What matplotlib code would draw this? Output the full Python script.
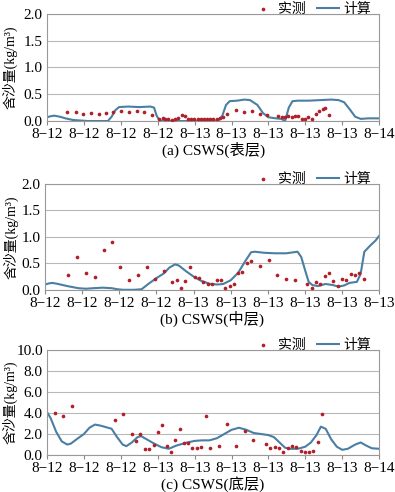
import matplotlib.pyplot as plt

plt.rcParams['font.family'] = ['Liberation Serif', 'Noto Sans CJK SC', 'DejaVu Sans']
plt.rcParams['axes.unicode_minus'] = True

# nhan truc x cua tung hinh
labels_a = ['8−12'] * 4 + ['8−13'] * 5 + ['8−14']
labels_b = ['8−12'] * 4 + ['8−13'] * 6
labels_c = ['8−12'] * 3 + ['8−13'] * 6 + ['8−14']

# (a) tang mat - so lieu thuc do
obs_a_x = [0.54, 0.78, 0.97, 1.19, 1.40, 1.61, 1.80, 2.01, 2.23, 2.44, 2.64, 2.84,
           3.04, 3.13, 3.20, 3.29, 3.38, 3.47, 3.56, 3.65, 3.75, 3.82, 3.90, 3.99,
           4.08, 4.17, 4.26, 4.33, 4.42, 4.51, 4.60, 4.69, 4.76, 4.87, 5.13, 5.35,
           5.55, 5.76, 5.96, 6.27, 6.36, 6.45, 6.54, 6.63, 6.72, 6.80, 6.90, 6.99,
           7.08, 7.19, 7.29, 7.38, 7.47, 7.54, 7.64]
obs_a_y = [0.17, 0.17, 0.14, 0.15, 0.14, 0.15, 0.16, 0.19, 0.17, 0.18, 0.17, 0.12,
           0.03, 0.06, 0.04, 0.03, 0.01, 0.03, 0.06, 0.11, 0.09, 0.04, 0.03, 0.03,
           0.03, 0.03, 0.04, 0.04, 0.03, 0.03, 0.03, 0.05, 0.08, 0.14, 0.20, 0.17,
           0.18, 0.13, 0.12, 0.10, 0.08, 0.08, 0.10, 0.08, 0.10, 0.09, 0.04, 0.03,
           0.08, 0.04, 0.14, 0.18, 0.22, 0.25, 0.12]
# (a) ket qua tinh
cal_a_x = [0, 0.1, 0.2, 0.35, 0.5, 0.7, 0.9, 1.1, 1.3, 1.5, 1.65, 1.75, 1.85, 1.95,
           2.2, 2.5, 2.8, 2.9, 2.97, 3.05, 3.3, 3.6, 4.0, 4.4, 4.65, 4.75, 4.85,
           4.95, 5.15, 5.35, 5.5, 5.7, 5.85, 6.0, 6.2, 6.35, 6.45, 6.55, 6.65, 6.8,
           7.1, 7.4, 7.7, 7.9, 8.05, 8.2, 8.35, 8.5, 8.7, 9.0]
cal_a_y = [0.07, 0.09, 0.10, 0.08, 0.05, 0.02, 0.01, 0.0, 0.0, 0.0, 0.0, 0.08, 0.20, 0.26,
           0.27, 0.26, 0.27, 0.25, 0.10, 0.01, 0.0, 0.0, 0.0, 0.0, 0.01, 0.10, 0.30,
           0.37, 0.38, 0.40, 0.39, 0.30, 0.15, 0.07, 0.05, 0.04, 0.0, 0.25, 0.37, 0.38,
           0.38, 0.39, 0.40, 0.39, 0.35, 0.22, 0.08, 0.04, 0.05, 0.05]

# (b) tang giua
obs_b_x = [0.63, 0.87, 1.10, 1.35, 1.58, 1.81, 2.03, 2.27, 2.51, 2.74, 2.97, 3.21,
           3.43, 3.55, 3.66, 3.78, 3.91, 4.03, 4.14, 4.26, 4.38, 4.49, 4.63, 4.74,
           4.85, 4.97, 5.08, 5.19, 5.31, 5.44, 5.55, 5.79, 6.02, 6.25, 6.49, 6.72,
           7.06, 7.18, 7.30, 7.41, 7.53, 7.65, 7.76, 7.88, 7.99, 8.11, 8.23, 8.35,
           8.46, 8.58]
obs_b_y = [0.28, 0.62, 0.31, 0.24, 0.75, 0.90, 0.44, 0.19, 0.28, 0.44, 0.21, 0.35,
           0.15, 0.19, 0.04, 0.17, 0.43, 0.24, 0.23, 0.15, 0.10, 0.10, 0.18, 0.18,
           0.03, 0.07, 0.11, 0.32, 0.33, 0.51, 0.55, 0.45, 0.57, 0.28, 0.21, 0.18,
           0.10, 0.03, 0.14, 0.10, 0.26, 0.32, 0.17, 0.07, 0.20, 0.18, 0.29, 0.28,
           0.32, 0.20]
cal_b_x = [0, 0.1, 0.2, 0.35, 0.6, 0.9, 1.1, 1.3, 1.55, 1.8, 1.95, 2.1, 2.4, 2.6,
           2.8, 3.0, 3.2, 3.35, 3.5, 3.6, 3.8, 4.0, 4.2, 4.45, 4.65, 4.8, 5.0, 5.2,
           5.4, 5.55, 5.65, 5.9, 6.2, 6.5, 6.7, 6.8, 6.9, 7.0, 7.1, 7.2, 7.35, 7.55,
           7.75, 7.9, 8.05, 8.2, 8.4, 8.5, 8.6, 8.75, 8.9, 9.0]
cal_b_y = [0.10, 0.12, 0.13, 0.11, 0.07, 0.03, 0.02, 0.03, 0.04, 0.03, 0.01, 0.0, 0.0,
           0.01, 0.12, 0.22, 0.31, 0.42, 0.48, 0.46, 0.35, 0.25, 0.17, 0.11, 0.10, 0.11,
           0.18, 0.32, 0.55, 0.71, 0.72, 0.70, 0.69, 0.69, 0.71, 0.72, 0.62, 0.38,
           0.15, 0.09, 0.07, 0.11, 0.09, 0.06, 0.08, 0.13, 0.15, 0.30, 0.72, 0.83,
           0.93, 1.02]

# (c) tang day
obs_c_x = [0.21, 0.43, 0.67, 1.83, 2.07, 2.30, 2.42, 2.53, 2.66, 2.77, 2.89, 3.01,
           3.12, 3.24, 3.36, 3.47, 3.59, 3.71, 3.83, 3.94, 4.06, 4.18, 4.31, 4.42,
           4.65, 4.89, 5.12, 5.36, 5.59, 5.93, 6.05, 6.17, 6.28, 6.40, 6.52, 6.63,
           6.75, 6.87, 6.98, 7.10, 7.22, 7.34, 7.45]
obs_c_y = [3.96, 3.74, 4.65, 3.36, 3.93, 1.98, 1.32, 2.04, 0.57, 0.57, 0.97, 2.17,
           2.86, 0.85, 0.31, 1.45, 2.52, 1.16, 1.16, 0.63, 0.63, 0.75, 3.74, 0.63,
           0.85, 2.92, 0.85, 2.26, 1.42, 1.07, 0.66, 0.79, 0.66, 0.25, 0.66, 0.85,
           0.79, 0.41, 0.25, 0.31, 0.41, 1.23, 3.93]
cal_c_x = [0, 0.1, 0.25, 0.4, 0.55, 0.65, 0.8, 1.0, 1.15, 1.3, 1.45, 1.6, 1.75, 1.9,
           2.05, 2.15, 2.3, 2.45, 2.55, 2.7, 2.9, 3.1, 3.3, 3.5, 3.8, 4.0, 4.2, 4.4,
           4.6, 4.8, 5.0, 5.2, 5.4, 5.6, 5.8, 6.0, 6.15, 6.3, 6.45, 6.6, 6.8, 7.0,
           7.15, 7.3, 7.42, 7.55, 7.7, 7.85, 8.0, 8.15, 8.35, 8.5, 8.65, 8.8, 9.0]
cal_c_y = [4.1, 3.5, 2.2, 1.3, 1.0, 1.1, 1.5, 2.0, 2.6, 2.9, 2.8, 2.65, 2.5, 1.7,
           1.0, 0.85, 1.2, 1.7, 1.8, 1.5, 1.1, 0.75, 0.6, 0.9, 1.2, 1.35, 1.4, 1.4,
           1.6, 2.0, 2.4, 2.6, 2.4, 2.1, 2.0, 1.9, 1.7, 1.2, 0.7, 0.6, 0.6, 0.8,
           1.2, 1.9, 2.7, 2.5, 1.5, 0.8, 0.5, 0.6, 1.0, 1.2, 0.9, 0.65, 0.6]

line_col = '#4a7fa3'
dot_col = '#b0202a'
grid_col = '#b8b8b8'

fig = plt.figure(figsize=(3.95, 4.92), dpi=100)

panels = [
    (obs_a_x, obs_a_y, cal_a_x, cal_a_y, labels_a, [0, 0.5, 1.0, 1.5, 2.0],
     '(a) CSWS(表层)', [0.119, 0.754, 0.841, 0.218]),
    (obs_b_x, obs_b_y, cal_b_x, cal_b_y, labels_b, [0, 0.5, 1.0, 1.5, 2.0],
     '(b) CSWS(中层)', [0.114, 0.411, 0.846, 0.215]),
    (obs_c_x, obs_c_y, cal_c_x, cal_c_y, labels_c, [0, 2, 4, 6, 8, 10],
     '(c) CSWS(底层)', [0.119, 0.075, 0.841, 0.214]),
]

for ox, oy, cx, cy, labels, yticks, title, rect in panels:
    ax = fig.add_axes(rect)
    ax.plot(cx, cy, color=line_col, lw=1.5, label='计算', zorder=2)
    ax.scatter(ox, oy, s=7, color=dot_col, label='实测', zorder=3, linewidths=0)
    ax.set_xlim(0, 9)
    ax.set_ylim(0, yticks[-1])
    ax.set_yticks(yticks)
    ax.set_yticklabels(['%.1f' % v for v in yticks], fontsize=11)
    ax.set_xticks(range(10))
    ax.set_xticklabels(labels, fontsize=11)
    ax.tick_params(axis='y', length=0, pad=3)
    ax.tick_params(axis='x', length=3, color='#888888', pad=2)
    ax.grid(axis='y', color=grid_col, lw=0.8)
    ax.set_axisbelow(True)
    for s in ax.spines.values():
        s.set_color('#999999')
        s.set_linewidth(0.8)
    # nhan truc y: dat cung vi tri x (tinh theo hinh) cho ca 3 hinh
    ax.set_ylabel('含沙量(kg/m³)', fontsize=10)
    ax.yaxis.set_label_coords((18 / 395 - rect[0]) / rect[2], 0.5)
    ax.annotate(title, xy=(0.5, 0), xycoords='axes fraction', xytext=(0, -21),
                textcoords='offset points', ha='center', va='center', fontsize=11)
    h, l = ax.get_legend_handles_labels()
    ax.legend(h[::-1], l[::-1], loc='lower right', bbox_to_anchor=(0.98, 0.97), ncol=2,
              frameon=False, fontsize=10, handlelength=1.6, handletextpad=0.3,
              columnspacing=0.8, borderaxespad=0, borderpad=0.1, markerscale=1.0)

fig.savefig('out.png', dpi=100)
